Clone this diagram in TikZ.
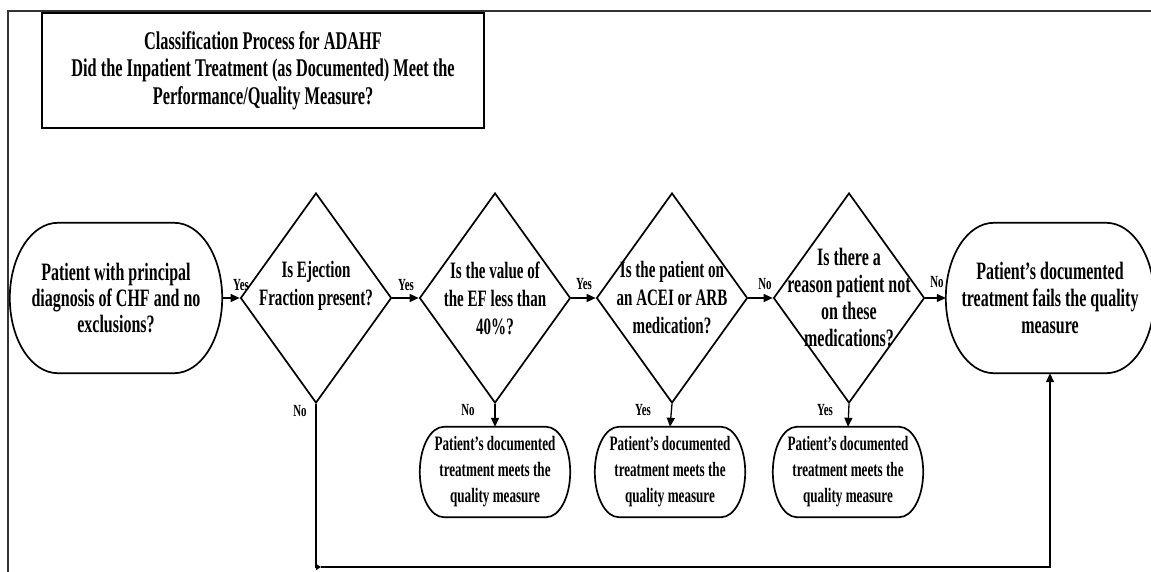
\documentclass[tikz,border=0pt]{standalone}
\usepackage{fontspec}
\setmainfont{Liberation Serif}[FakeStretch=0.64]
\usetikzlibrary{shapes.geometric,arrows.meta,calc}

% outline of a terminal: flat top and bottom, elliptical ends of half-width #2
\newcommand\drawstadium[2]{%
  \draw[shapeline] let \p1=(#1.north west), \p2=(#1.south east), \n1={(\y1-\y2)/2} in
    (\x1+#2pt,\y1) -- (\x2-#2pt,\y1)
    arc[start angle=90, end angle=-90, x radius=#2pt, y radius=\n1]
    -- (\x1+#2pt,\y2)
    arc[start angle=270, end angle=90, x radius=#2pt, y radius=\n1] -- cycle;}

\tikzset{
  shapeline/.style={line width=1.7pt, black},
  term/.style={rectangle, inner sep=0pt, align=center, font=\fontsize{25}{26}\selectfont\bfseries},
  endbox/.style={rectangle, inner sep=0pt, align=center, font=\fontsize{25}{27}\selectfont\bfseries},
  meets/.style={rectangle, inner sep=0pt, minimum width=150pt, minimum height=90pt,
                align=center, font=\fontsize{20.5}{26}\selectfont\bfseries},
  decision/.style={diamond, draw, line width=1.7pt, inner sep=0pt,
                   minimum width=151pt, minimum height=210pt},
  dtext/.style={align=center, inner sep=0pt, font=\fontsize{23.5}{28}\selectfont\bfseries},
  lbl/.style={inner sep=0pt, font=\fontsize{17}{18}\selectfont\bfseries},
  conn/.style={line width=1.3pt, -{Triangle[length=9pt,width=8pt]}},
  titlebox/.style={draw, line width=1.8pt, inner sep=0pt, minimum width=442pt,
                   minimum height=115pt, align=center,
                   font=\fontsize{25.5}{27.5}\selectfont\bfseries},
}

\begin{document}
\begin{tikzpicture}[x=1pt, y=1pt]
\useasboundingbox (0,0) rectangle (1151,571);

% page frame (running off the right and bottom)
\draw[line width=2pt, black!80] (8,-20) -- (8,560) -- (1170,560);

% heading
\node[titlebox] (title) at (263,500.5)
  {Classification Process for ADAHF\\
   Did the Inpatient Treatment (as Documented) Meet the\\
   Performance/Quality Measure?};

% main row
\node[term, minimum width=212pt, minimum height=150pt] (start) at (116,273)
  {Patient with principal\\diagnosis of CHF and no\\exclusions?};
\drawstadium{start}{48}

\node[decision] (d1) at (316,273) {};
\node[dtext, yshift=12pt] (t1) at (d1) {Is Ejection\\Fraction present?};

\node[decision] (d2) at (495,273) {};
\node[dtext] (t2) at (d2) {Is the value of\\the EF less than\\40\%?};

\node[decision] (d3) at (672,273) {};
\node[dtext] (t3) at (d3) {Is the patient on\\an ACEI or ARB\\medication?};

\node[decision] (d4) at (849,273) {};
\node[dtext, font=\fontsize{25}{27}\selectfont\bfseries] (t4) at (d4)
  {Is there a\\reason patient not\\on these\\medications?};

\node[endbox, minimum width=208pt, minimum height=150pt] (fail) at (1050,273)
  {Patient’s documented\\treatment fails the quality\\measure};
\drawstadium{fail}{48}

% outcomes below the decisions
\node[meets] (m2) at (495,99) {Patient’s documented\\treatment meets the\\quality measure};
\drawstadium{m2}{24}
\node[meets] (m3) at (670,99) {Patient’s documented\\treatment meets the\\quality measure};
\drawstadium{m3}{24}
\node[meets] (m4) at (848,99) {Patient’s documented\\treatment meets the\\quality measure};
\drawstadium{m4}{24}

% connectors along the row
\draw[conn] (start.east) -- (d1.west);
\draw[conn] (d1.east) -- (d2.west);
\draw[conn] (d2.east) -- (d3.west);
\draw[conn] (d3.east) -- (d4.west);
\draw[conn] (d4.east) -- (fail.west);

% connectors down to the outcomes
\draw[conn] (d2.south) -- (m2.north);
\draw[conn] (d3.south) -- (m3.north);
\draw[conn] (d4.south) -- (m4.north);

% return path from the first decision to the failure terminal
\coordinate (corner) at (d1.south |- 0,4);
\coordinate (turn) at ($(corner)+(5,0)$);
\draw[line width=1.3pt, -{Triangle[length=5pt,width=6pt]}] (d1.south) |- (turn);
\draw[conn] (turn) -| (fail.south);

% branch labels
\node[lbl] (y1) at (241,286) {Yes};
\node[lbl] (y2) at (406,286) {Yes};
\node[lbl] (y3) at (584,287) {Yes};
\node[lbl] (n3) at (765,287) {No};
\node[lbl] (n4) at (937,289) {No};
\node[lbl] (n1) at (300,160) {No};
\node[lbl] (n2) at (468,161) {No};
\node[lbl] (y5) at (643,161) {Yes};
\node[lbl] (y6) at (825,161) {Yes};
\end{tikzpicture}
\end{document}
